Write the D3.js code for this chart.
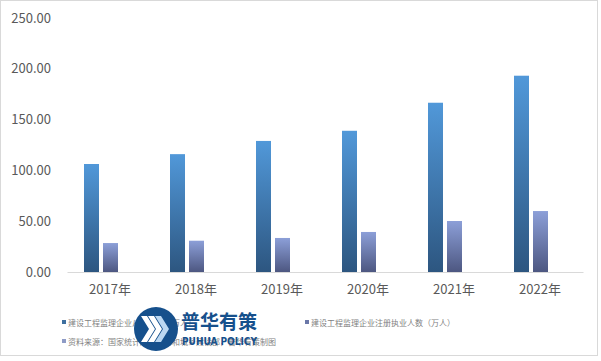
<!DOCTYPE html>
<html>
<head>
  <meta charset='utf-8'>
  <script src="https://d3js.org/d3.v7.min.js"></script>
  <style>
    body { margin: 0; background: #fff; }
    svg { display: block; }
  </style>
</head>
<body>
  <script type='text/javascript'>
    // Data
    var years = ['2017年', '2018年', '2019年', '2020年', '2021年', '2022年'];
    var staff = [106.3, 116.0, 129.0, 139.0, 166.6, 193.2];       // 从业人员（万人）
    var registered = [28.5, 30.8, 33.5, 39.4, 50.2, 60.0];        // 注册执业人数（万人）
    var yTicks = [0, 50, 100, 150, 200, 250];
    var seriesNames = ['建设工程监理企业从业人员（万人）', '建设工程监理企业注册执业人数（万人）'];
    var sourceNote = '资料来源：国家统计局，住房和城乡建设部，普华有策制图';

    var W = 601, H = 361;
    var margin = {top: 18, left: 67, right: 18, bottom: 89};

    var svg = d3.select('body').append('svg')
      .attr('width', W).attr('height', H);

    var font = "'Microsoft YaHei','Noto Sans CJK SC','DejaVu Sans',sans-serif";

    // frame
    svg.append('rect')
      .attr('x', 0.5).attr('y', 0.5).attr('width', 597).attr('height', 355)
      .attr('fill', 'none').attr('stroke', '#d9d9d9');

    // gradients
    var defs = svg.append('defs');
    function grad(id, top, bottom) {
      var g = defs.append('linearGradient').attr('id', id)
        .attr('x1', 0).attr('y1', 0).attr('x2', 0).attr('y2', 1);
      g.append('stop').attr('offset', '0%').attr('stop-color', top);
      g.append('stop').attr('offset', '100%').attr('stop-color', bottom);
    }
    grad('gBlue', '#5198d9', '#2d5680');
    grad('gPurple', '#8c9fd8', '#4d5781');

    var x = d3.scaleBand().domain(years)
      .range([margin.left, W - margin.right]);
    var y = d3.scaleLinear().domain([0, 250])
      .range([H - margin.bottom, margin.top]);

    // y axis labels
    var yAxis = svg.append('g')
      .attr('transform', 'translate(' + (margin.left - 13) + ',0)')
      .call(d3.axisLeft(y).tickValues(yTicks).tickSize(0).tickFormat(d3.format('.2f')));
    yAxis.select('.domain').remove();
    yAxis.selectAll('text')
      .attr('fill', '#595959').style('font-size', '13px').style('font-family', font);

    // x axis
    var xAxis = svg.append('g')
      .attr('transform', 'translate(0,' + y(0) + ')')
      .call(d3.axisBottom(x).tickSize(0).tickPadding(13));
    xAxis.select('.domain').attr('stroke', '#d9d9d9');
    xAxis.selectAll('text')
      .attr('fill', '#595959').style('font-size', '13px').style('font-family', font);

    // bars
    var barW = 15, gap = 4, shift = -9;
    var g = svg.append('g');
    g.selectAll('.b1').data(staff).enter().append('rect')
      .attr('x', function(d, i) { return x(years[i]) + x.bandwidth() / 2 - barW - gap / 2 + shift; })
      .attr('y', function(d) { return y(d); })
      .attr('width', barW)
      .attr('height', function(d) { return y(0) - y(d); })
      .attr('fill', 'url(#gBlue)');
    g.selectAll('.b2').data(registered).enter().append('rect')
      .attr('x', function(d, i) { return x(years[i]) + x.bandwidth() / 2 + gap / 2 + shift; })
      .attr('y', function(d) { return y(d); })
      .attr('width', barW)
      .attr('height', function(d) { return y(0) - y(d); })
      .attr('fill', 'url(#gPurple)');

    // legend
    var legend = [
      {x: 62, y: 323, text: seriesNames[0], c: '#3e6f9f'},
      {x: 305, y: 323, text: seriesNames[1], c: '#6a77a8'},
      {x: 62, y: 342, text: sourceNote, c: '#8e9bc6'}
    ];
    legend.forEach(function(l) {
      svg.append('rect').attr('x', l.x).attr('y', l.y - 3).attr('width', 4).attr('height', 4).attr('fill', l.c);
      svg.append('text').attr('x', l.x + 6).attr('y', l.y + 3)
        .attr('fill', '#7f7f7f').style('font-size', '8px').style('font-family', font)
        .text(l.text);
    });

    // watermark logo (sits over the legend, as in the source image)
    var logo = svg.append('g');
    logo.append('circle').attr('cx', 156).attr('cy', 329).attr('r', 22).attr('fill', '#16508c');
    [0, 7, 14].forEach(function(dx) {
      logo.append('path')
        .attr('d', 'M' + (141 + dx) + ',316 l6,0 l8,13 l-8,13 l-6,0 l8,-13 z')
        .attr('fill', dx === 14 ? '#bcd8f2' : '#ffffff');
    });
    logo.append('text').attr('x', 181).attr('y', 329)
      .attr('fill', '#16508c').style('font-size', '19px').style('font-weight', 'bold')
      .style('font-family', font).text('普华有策');
    logo.append('text').attr('x', 182).attr('y', 345)
      .attr('fill', '#16508c').style('font-size', '10px').style('font-weight', 'bold')
      .style('font-family', "'DejaVu Sans Condensed','Liberation Sans',sans-serif").text('PUHUA POLICY');
  </script>
</body>
</html>
